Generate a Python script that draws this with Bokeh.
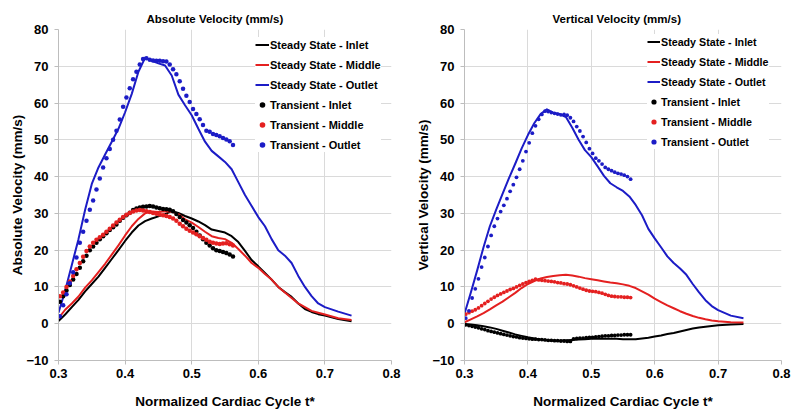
from bokeh.plotting import figure
from bokeh.layouts import row
from bokeh.models import Range1d, FixedTicker, Legend, LegendItem
from bokeh.embed import file_html
from bokeh.resources import INLINE

# ---------------- data ----------------
t_steady = [0.30, 0.31, 0.32, 0.33, 0.34, 0.35, 0.36, 0.37, 0.38, 0.39,
            0.40, 0.41, 0.42, 0.43, 0.44, 0.45, 0.46, 0.47, 0.48, 0.49,
            0.50, 0.51, 0.52, 0.53, 0.54, 0.55, 0.56, 0.57, 0.58, 0.59,
            0.60, 0.61, 0.62, 0.63, 0.64, 0.65, 0.66, 0.67, 0.68, 0.69,
            0.70, 0.72, 0.74]

t_transient = [0.302, 0.307, 0.312, 0.317, 0.322, 0.327, 0.332, 0.337, 0.342, 0.347,
               0.352, 0.357, 0.362, 0.367, 0.372, 0.377, 0.382, 0.387, 0.392, 0.397,
               0.402, 0.407, 0.412, 0.417, 0.422, 0.427, 0.432, 0.437, 0.442, 0.447,
               0.452, 0.457, 0.462, 0.467, 0.472, 0.477, 0.482, 0.487, 0.492, 0.497,
               0.502, 0.507, 0.512, 0.517, 0.522, 0.527, 0.532, 0.537, 0.542, 0.547,
               0.552, 0.557, 0.562]

# Absolute velocity (mm/s)
abs_ss_inlet = [0.7, 2.5, 4.5, 6.5, 8.8, 10.8, 12.8, 15.2, 17.6, 20.0,
                22.5, 24.8, 26.7, 27.9, 28.6, 29.2, 29.8, 30.6, 30.1, 29.3,
                28.6, 27.8, 26.8, 25.6, 25.2, 24.8, 23.8, 22.2, 19.8, 17.3,
                15.6, 13.8, 12.0, 10.0, 8.6, 7.3, 5.5, 4.0, 3.2, 2.6,
                2.2, 1.3, 0.7]
abs_ss_middle = [1.5, 3.8, 5.5, 7.4, 9.8, 11.8, 14.0, 16.3, 18.8, 21.3,
                 24.0, 26.5, 28.5, 30.0, 30.5, 30.4, 30.6, 30.5, 29.8, 28.4,
                 27.5, 26.3, 25.0, 23.8, 23.3, 23.0, 22.0, 20.3, 18.5, 16.5,
                 15.2, 13.5, 12.0, 10.0, 8.5, 7.0, 5.5, 4.5, 3.5, 3.0,
                 2.5, 1.5, 1.0]
abs_ss_outlet = [3.0, 9.0, 16.0, 23.0, 31.0, 38.0, 42.5, 46.0, 49.5, 53.0,
                 57.5, 62.5, 68.5, 72.3, 71.5, 70.8, 70.2, 67.5, 62.3, 59.4,
                 56.7, 53.0, 49.5, 47.0, 45.5, 44.0, 42.0, 38.5, 35.0, 32.0,
                 29.0, 26.5, 23.0, 20.0, 18.5, 16.5, 13.0, 10.0, 7.5, 5.5,
                 4.5, 3.3, 2.2]
abs_tr_inlet = [6.0, 7.5, 9.0, 10.5, 12.0, 13.5, 15.2, 17.0, 18.5, 20.0,
                21.0, 22.0, 23.0, 23.8, 24.6, 25.5, 26.2, 27.0, 28.0, 28.8,
                29.5, 30.2, 30.9, 31.3, 31.6, 31.8, 31.9, 32.0, 31.9, 31.6,
                31.4, 31.2, 31.1, 31.0, 30.6, 29.8, 29.0, 28.2, 27.5, 26.8,
                26.0, 25.0, 24.0, 23.0, 22.0, 21.3, 20.5, 20.0, 19.8, 19.5,
                19.2, 18.8, 18.3]
abs_tr_middle = [7.5, 8.5, 10.0, 11.5, 13.0, 14.8, 16.5, 18.2, 19.8, 21.0,
                 22.0, 22.8, 23.5, 24.2, 25.0, 25.8, 26.7, 27.5, 28.3, 29.0,
                 29.6, 30.1, 30.5, 30.8, 30.9, 30.8, 30.6, 30.4, 30.1, 29.9,
                 29.7, 29.5, 29.3, 29.0, 28.6, 28.0, 27.2, 26.5, 25.8, 25.3,
                 24.8, 24.3, 23.8, 23.3, 22.8, 22.3, 22.0, 21.8, 21.7, 21.8,
                 21.9, 21.6, 21.3]
abs_tr_outlet = [2.0, 5.0, 8.0, 11.0, 14.0, 18.0, 22.0, 25.0, 28.0, 31.0,
                 33.5, 36.5, 39.5, 42.5, 45.0, 47.5, 50.0, 52.5, 55.5, 59.0,
                 61.5, 64.0, 66.5, 68.5, 70.5, 72.0, 72.2, 71.8, 71.6, 71.5,
                 71.5, 71.4, 71.3, 70.5, 69.2, 67.8, 65.9, 63.9, 62.0, 60.3,
                 58.4, 57.0, 55.6, 54.0, 52.5, 52.2, 51.6, 51.3, 51.0, 50.5,
                 50.1, 49.6, 48.6]

# Vertical velocity (mm/s)
vert_ss_inlet = [-0.1, -0.2, -0.4, -0.7, -1.0, -1.4, -1.9, -2.4, -2.9, -3.3,
                 -3.7, -4.0, -4.3, -4.5, -4.6, -4.6, -4.5, -4.4, -4.3, -4.2,
                 -4.1, -4.1, -4.1, -4.1, -4.1, -4.2, -4.2, -4.2, -4.0, -3.8,
                 -3.5, -3.2, -2.8, -2.5, -2.1, -1.7, -1.3, -1.0, -0.8, -0.6,
                 -0.4, -0.2, -0.1]
vert_ss_middle = [0.4, 1.2, 2.0, 2.9, 3.9, 5.0, 6.0, 7.2, 8.4, 9.7,
                  10.8, 11.6, 12.3, 12.7, 13.0, 13.2, 13.3, 13.1, 12.8, 12.4,
                  12.1, 11.8, 11.5, 11.2, 11.0, 10.7, 10.3, 9.7, 8.8, 7.9,
                  6.8, 5.9, 5.0, 4.2, 3.4, 2.7, 2.1, 1.6, 1.2, 0.9,
                  0.7, 0.4, 0.3]
vert_ss_outlet = [2.7, 8.5, 14.5, 20.8, 26.5, 31.0, 35.3, 39.5, 43.5, 47.6,
                  51.3, 54.5, 57.0, 58.3, 57.4, 57.0, 56.2, 53.3, 50.0, 47.2,
                  45.3, 42.8, 40.2, 38.2, 37.1, 36.1, 34.6, 32.3, 29.5, 25.8,
                  23.2, 20.8, 18.3, 16.5, 15.0, 13.3, 10.8, 8.5, 6.4, 4.8,
                  3.7, 2.2, 1.5]
vert_tr_inlet = [-0.3, -0.5, -0.7, -0.9, -1.1, -1.4, -1.6, -1.9, -2.1, -2.3,
                 -2.5, -2.7, -2.9, -3.1, -3.3, -3.5, -3.6, -3.8, -3.9, -4.0,
                 -4.1, -4.2, -4.2, -4.3, -4.3, -4.4, -4.5, -4.5, -4.6, -4.6,
                 -4.7, -4.7, -4.8, -4.8, -4.1, -4.0, -3.9, -3.9, -3.8, -3.7,
                 -3.7, -3.6, -3.5, -3.4, -3.3, -3.3, -3.2, -3.2, -3.1, -3.1,
                 -3.0, -3.0, -3.0]
vert_tr_middle = [2.6, 3.0, 3.4, 3.8, 4.3, 4.9, 5.5, 6.1, 6.7, 7.2,
                  7.7, 8.1, 8.5, 8.9, 9.3, 9.6, 10.0, 10.4, 10.8, 11.2,
                  11.5, 11.8, 12.1, 11.9, 11.8, 11.7, 11.6, 11.5, 11.4, 11.2,
                  11.1, 10.9, 10.8, 10.6, 10.3, 10.0, 9.7, 9.4, 9.1, 8.9,
                  8.8, 8.7, 8.5, 8.3, 8.0, 7.7, 7.5, 7.4, 7.3, 7.3,
                  7.2, 7.2, 7.1]
vert_tr_outlet = [1.5, 3.5, 7.0, 9.5, 12.2, 15.4, 18.0, 21.0, 24.0, 26.5,
                  28.6, 30.5, 32.2, 34.0, 36.0, 37.8, 39.8, 42.0, 44.3, 46.8,
                  49.2, 51.8, 53.8, 55.6, 56.9, 57.8, 57.7, 57.4, 57.2, 57.0,
                  56.8, 56.9, 56.7, 56.0, 55.0, 53.6, 52.4, 50.9, 49.3, 47.6,
                  46.3, 45.0, 44.3, 43.4, 42.5, 42.0, 41.6, 41.2, 40.9, 40.7,
                  40.4, 40.0, 39.3]

x_ticks = [0.3, 0.4, 0.5, 0.6, 0.7, 0.8]
y_ticks = [-10, 0, 10, 20, 30, 40, 50, 60, 70, 80]

series_labels = ["Steady State - Inlet", "Steady State - Middle", "Steady State - Outlet",
                 "Transient - Inlet", "Transient - Middle", "Transient - Outlet"]

BLACK = "#000000"
RED = "#e42020"
BLUE = "#1c1cc6"
FONT = "Liberation Sans"


def make_panel(title, ylabel, steady, transient, width, height, borders, title_offset,
               legend_loc, legend_font, dot_size, glyph_w):
    left, right, top, bottom = borders
    p = figure(width=width, height=height, output_backend="svg", toolbar_location=None,
               x_range=Range1d(0.3, 0.8), y_range=Range1d(-10, 80),
               min_border_left=left, min_border_right=right,
               min_border_top=top, min_border_bottom=bottom)
    p.title.text = title
    p.title.text_font = FONT
    p.title.text_font_size = "11.5px"
    p.title.text_font_style = "bold"
    p.title.text_color = "#000000"
    p.title.align = "left"
    p.title.offset = title_offset
    p.title.standoff = 9
    p.outline_line_color = None
    p.background_fill_color = "white"

    for ax in (p.xaxis[0], p.yaxis[0]):
        ax.major_label_text_font = FONT
        ax.major_label_text_font_size = "13px"
        ax.major_label_text_font_style = "bold"
        ax.major_label_text_color = "#000000"
        ax.axis_label_text_font = FONT
        ax.axis_label_text_font_size = "13.5px"
        ax.axis_label_text_font_style = "bold"
        ax.axis_label_text_color = "#000000"
        ax.axis_line_color = "#bdbdbd"
        ax.major_tick_line_color = "#bdbdbd"
        ax.major_tick_out = 4
        ax.major_tick_in = 0
        ax.minor_tick_line_color = None
    p.xaxis[0].ticker = FixedTicker(ticks=x_ticks)
    p.yaxis[0].ticker = FixedTicker(ticks=y_ticks)
    p.xaxis[0].axis_label = "Normalized Cardiac Cycle t*"
    p.yaxis[0].axis_label = ylabel
    p.xaxis[0].major_label_standoff = 4
    p.xaxis[0].axis_label_standoff = 13
    p.yaxis[0].major_label_standoff = 6
    p.yaxis[0].axis_label_standoff = -2

    p.xgrid.ticker = FixedTicker(ticks=x_ticks)
    p.ygrid.ticker = FixedTicker(ticks=y_ticks)
    p.xgrid.grid_line_color = "#dadada"
    p.ygrid.grid_line_color = "#dadada"

    colors = [BLACK, RED, BLUE]
    renderers = []
    for ys, c in zip(steady, colors):
        r = p.line(t_steady, ys, line_color=c, line_width=2, line_join="round")
        renderers.append(r)
    for ys, c in zip(transient, colors):
        r = p.scatter(t_transient, ys, marker="circle", size=dot_size,
                      fill_color=c, line_color=None)
        renderers.append(r)

    items = [LegendItem(label=lab, renderers=[r]) for lab, r in zip(series_labels, renderers)]
    legend = Legend(items=items, location=legend_loc)
    legend.label_text_font = FONT
    legend.label_text_font_size = legend_font
    legend.label_text_font_style = "bold"
    legend.label_text_color = "#000000"
    legend.background_fill_color = "white"
    legend.background_fill_alpha = 1.0
    legend.border_line_color = None
    legend.glyph_width = glyph_w
    legend.glyph_height = 15
    legend.label_height = 15
    legend.spacing = 5
    legend.padding = 5
    legend.margin = 0
    legend.label_standoff = 1
    p.add_layout(legend, "center")
    return p


p1 = make_panel("Absolute Velocity (mm/s)", "Absolute Velocity (mm/s)",
                [abs_ss_inlet, abs_ss_middle, abs_ss_outlet],
                [abs_tr_inlet, abs_tr_middle, abs_tr_outlet],
                width=404, height=418, borders=(58, 13, 29, 57), title_offset=88,
                legend_loc=(197, 208), legend_font="11px", dot_size=4.5, glyph_w=14)

p2 = make_panel("Vertical Velocity (mm/s)", "Vertical Velocity (mm/s)",
                [vert_ss_inlet, vert_ss_middle, vert_ss_outlet],
                [vert_tr_inlet, vert_tr_middle, vert_tr_outlet],
                width=396, height=418, borders=(60, 19, 28, 58), title_offset=88,
                legend_loc=(183, 211), legend_font="10.7px", dot_size=3.8, glyph_w=13)

layout = row(p1, p2)
open("out.html", "w").write(file_html(layout, INLINE))
